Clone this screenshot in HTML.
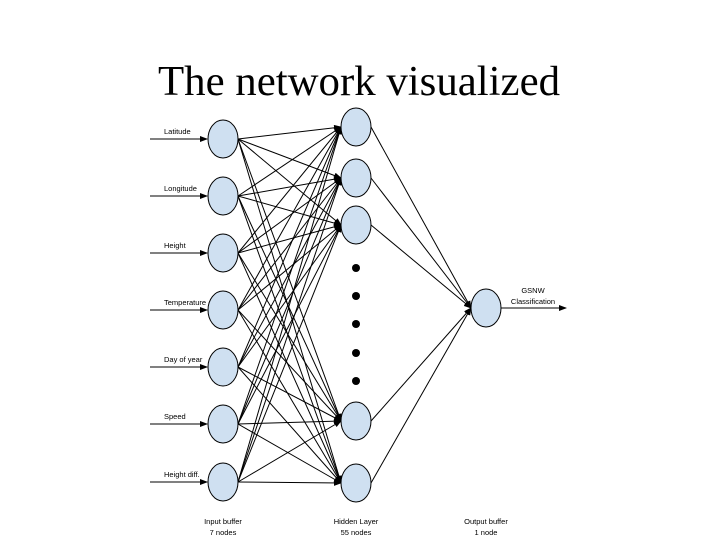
<!DOCTYPE html>
<html><head><style>
body{margin:0;background:#fff;width:720px;height:540px;overflow:hidden}
svg{display:block}
</style></head><body>
<svg width="720" height="540" viewBox="0 0 720 540" xmlns="http://www.w3.org/2000/svg">
<defs><marker id="a" markerWidth="8" markerHeight="6" refX="7" refY="3" orient="auto"><path d="M0,0 L8,3 L0,6z" fill="#000"/></marker></defs>
<text x="359" y="95" text-anchor="middle" font-family="Liberation Serif,serif" font-size="42" textLength="402" lengthAdjust="spacingAndGlyphs">The network visualized</text>
<g stroke="#000" stroke-width="1" id="L"></g>
<script>
var s="http://www.w3.org/2000/svg",g=document.getElementById("L");
var iy=[139,196,253,310,367,424,482],hy=[127,178,225,421,483];
function ln(x1,y1,x2,y2,m){var l=document.createElementNS(s,"line");l.setAttribute("x1",x1);l.setAttribute("y1",y1);l.setAttribute("x2",x2);l.setAttribute("y2",y2);if(m)l.setAttribute("marker-end","url(#a)");g.appendChild(l);}
iy.forEach(function(a){hy.forEach(function(b){ln(238,a,341,b,1);});ln(150,a,207,a,1);});
hy.forEach(function(b){ln(371,b,471,308,1);});
ln(501,308,566,308,1);
</script>
<g fill="#cfe0f1" stroke="#000" stroke-width="1">
<ellipse cx="223" cy="139" rx="15" ry="19"/><ellipse cx="223" cy="196" rx="15" ry="19"/><ellipse cx="223" cy="253" rx="15" ry="19"/><ellipse cx="223" cy="310" rx="15" ry="19"/><ellipse cx="223" cy="367" rx="15" ry="19"/><ellipse cx="223" cy="424" rx="15" ry="19"/><ellipse cx="223" cy="482" rx="15" ry="19"/>
<ellipse cx="356" cy="127" rx="15" ry="19"/><ellipse cx="356" cy="178" rx="15" ry="19"/><ellipse cx="356" cy="225" rx="15" ry="19"/><ellipse cx="356" cy="421" rx="15" ry="19"/><ellipse cx="356" cy="483" rx="15" ry="19"/>
<ellipse cx="486" cy="308" rx="15" ry="19"/>
</g>
<g fill="#000"><circle cx="356" cy="268" r="4"/><circle cx="356" cy="296" r="4"/><circle cx="356" cy="324" r="4"/><circle cx="356" cy="353" r="4"/><circle cx="356" cy="381" r="4"/></g>
<g font-family="Liberation Sans,sans-serif" font-size="7.5" fill="#000">
<text x="164" y="134">Latitude</text><text x="164" y="191">Longitude</text><text x="164" y="248">Height</text><text x="164" y="305">Temperature</text><text x="164" y="362">Day of year</text><text x="164" y="419">Speed</text><text x="164" y="477">Height diff.</text>
<text x="533" y="293" text-anchor="middle">GSNW</text><text x="533" y="304" text-anchor="middle">Classification</text>
<g text-anchor="middle"><text x="223" y="524">Input buffer</text><text x="223" y="535">7 nodes</text>
<text x="356" y="524">Hidden Layer</text><text x="356" y="535">55 nodes</text>
<text x="486" y="524">Output buffer</text><text x="486" y="535">1 node</text></g>
</g>
</svg>
</body></html>
